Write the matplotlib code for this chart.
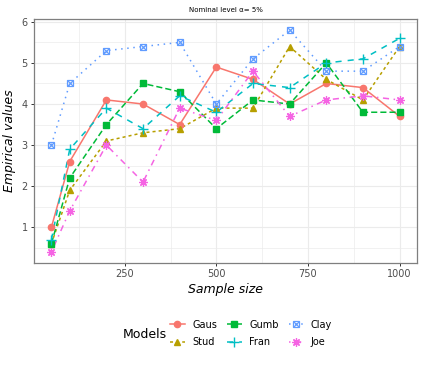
import matplotlib
matplotlib.use("Agg")
import matplotlib.pyplot as plt
from matplotlib.lines import Line2D
from matplotlib.legend_handler import HandlerTuple

sizes = [50, 100, 200, 300, 400, 500, 600, 700, 800, 900, 1000]
models = ["Gaus", "Stud", "Gumb", "Fran", "Clay", "Joe"]
gaus = [1.0, 2.6, 4.1, 4.0, 3.5, 4.9, 4.6, 4.0, 4.5, 4.4, 3.7]
stud = [0.6, 1.9, 3.1, 3.3, 3.4, 3.9, 3.9, 5.4, 4.6, 4.1, 5.4]
gumb = [0.6, 2.2, 3.5, 4.5, 4.3, 3.4, 4.1, 4.0, 5.0, 3.8, 3.8]
fran = [0.7, 2.9, 3.9, 3.4, 4.2, 3.8, 4.5, 4.4, 5.0, 5.1, 5.6]
clay = [3.0, 4.5, 5.3, 5.4, 5.5, 4.0, 5.1, 5.8, 4.8, 4.8, 5.4]
joe = [0.4, 1.4, 3.0, 2.1, 3.9, 3.6, 4.8, 3.7, 4.1, 4.2, 4.1]
series = [gaus, stud, gumb, fran, clay, joe]

colors = ["#F8766D", "#B79F00", "#00BA38", "#00BFC4", "#619CFF", "#F564E3"]
dashes = [None, (2, 2), (4, 2), (4, 4), (1, 3), (1, 3, 4, 3)]

fig = plt.figure(figsize=(4.23, 3.65), dpi=100)
ax = fig.add_axes([34/423, 1-263/365, (417-34)/423, (263-19)/365])

handles = []
for name, ys, c, d in zip(models, series, colors, dashes):
    lw = 1.1
    ln, = ax.plot(sizes, ys, color=c, lw=lw, zorder=3)
    if d is not None:
        ln.set_dashes(d)
    if name == "Gaus":
        ax.plot(sizes, ys, ls="none", marker="o", ms=4.5, color=c, zorder=4)
        h = Line2D([], [], color=c, lw=lw, marker="o", ms=4.5)
    elif name == "Stud":
        ax.plot(sizes, ys, ls="none", marker="^", ms=5, color=c, zorder=4)
        h = Line2D([], [], color=c, lw=lw, marker="^", ms=5, dashes=d)
    elif name == "Gumb":
        ax.plot(sizes, ys, ls="none", marker="s", ms=4.5, color=c, zorder=4)
        h = Line2D([], [], color=c, lw=lw, marker="s", ms=4.5, dashes=d)
    elif name == "Fran":
        ax.plot(sizes, ys, ls="none", marker="+", ms=7, mew=1, color=c, zorder=4)
        h = Line2D([], [], color=c, lw=lw, marker="+", ms=7, mew=1, dashes=d)
    elif name == "Clay":
        ax.plot(sizes, ys, ls="none", marker="s", ms=5, mfc="none", mew=0.9, color=c, zorder=4)
        ax.plot(sizes, ys, ls="none", marker="x", ms=4, mew=0.9, color=c, zorder=4)
        h1 = Line2D([], [], color=c, lw=lw, marker="s", ms=5, mfc="none", mew=0.9, dashes=d)
        h2 = Line2D([], [], color=c, lw=0, ls="none", marker="x", ms=4, mew=0.9)
        h = (h1, h2)
    else:
        ax.plot(sizes, ys, ls="none", marker=(8, 2, 0), ms=6, mew=0.9, color=c, zorder=4)
        h = Line2D([], [], color=c, lw=lw, marker=(8, 2, 0), ms=6, mew=0.9, dashes=d)
    handles.append(h)

ax.set_xlim(2.5, 1047.5)
ax.set_ylim(0.13, 6.07)
ax.set_xticks([250, 500, 750, 1000])
ax.set_xticks([125, 375, 625, 875], minor=True)
ax.set_yticks([1, 2, 3, 4, 5, 6])
ax.set_yticks([0.5, 1.5, 2.5, 3.5, 4.5, 5.5], minor=True)
ax.grid(which="major", color="#EBEBEB", lw=0.8, zorder=0)
ax.grid(which="minor", color="#EBEBEB", lw=0.5, zorder=0)
ax.set_axisbelow(True)
for s in ax.spines.values():
    s.set_color("#7F7F7F")
    s.set_linewidth(0.9)
ax.tick_params(which="major", length=2.5, width=0.7, color="#333333", labelsize=7, labelcolor="#4D4D4D", pad=2)
ax.tick_params(which="minor", length=0)

ax.set_xlabel("Sample size", fontsize=9, style="italic", labelpad=3)
ax.set_ylabel("Empirical values", fontsize=9, style="italic", labelpad=4)
ax.set_title("Nominal level \u03b1= 5%", fontsize=5, pad=5)

fig.text(123/423, 1-334/365, "Models", fontsize=9, va="center", ha="left")
leg = fig.legend(handles, models, ncol=3, loc="center left",
                 bbox_to_anchor=(170/423, 1-333.5/365), frameon=False,
                 borderpad=0, borderaxespad=0,
                 fontsize=7, handlelength=1.5, handletextpad=0.8,
                 columnspacing=1.0, labelspacing=0.75,
                 handler_map={tuple: HandlerTuple(ndivide=1, pad=0)})

fig.savefig("out.png", dpi=100)
